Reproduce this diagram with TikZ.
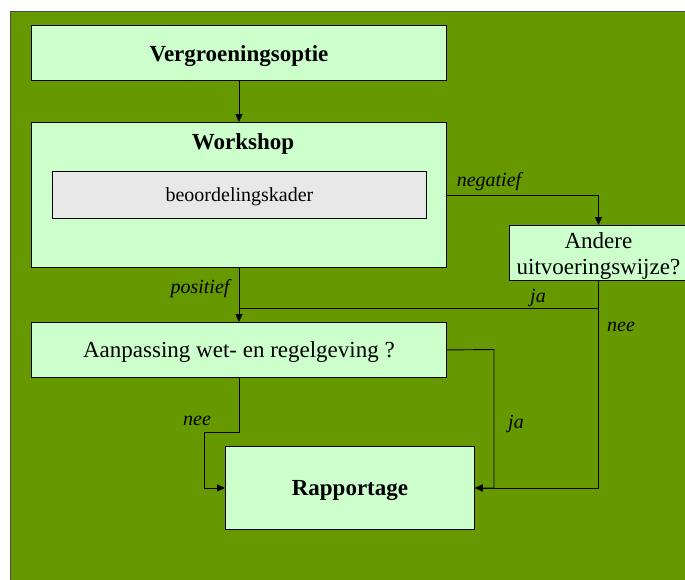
\documentclass[tikz,border=0pt]{standalone}
\usepackage{fontspec}
\setmainfont{Liberation Serif}
\usetikzlibrary{arrows.meta}
\definecolor{bggreen}{HTML}{669900}
\definecolor{boxgreen}{HTML}{CCFFCC}
\definecolor{boxgray}{HTML}{E8E8E8}
\begin{document}
\begin{tikzpicture}[x=1pt,y=-1pt,
  box/.style={draw=black, line width=0.9pt, fill=boxgreen, inner sep=0pt, anchor=north west},
  graybox/.style={box, fill=boxgray},
  arr/.style={line width=0.9pt, -{Triangle[length=8pt,width=7pt]}},
  ln/.style={line width=0.9pt},
  lbl/.style={font=\fontsize{20}{24}\selectfont\itshape, inner sep=0pt},
  ttl/.style={font=\fontsize{23}{26}\selectfont\bfseries},
  txt/.style={font=\fontsize{23}{26}\selectfont, align=center}]
\useasboundingbox (0,0) rectangle (685,579);
\fill[white] (0,0) rectangle (685,579);
\fill[bggreen] (10,11) rectangle (690,585);
\draw[line width=0.9pt, black!70] (10,585) -- (10,11) -- (690,11);
% boxes
\node[box, minimum width=415pt, minimum height=55pt] (v) at (31,25) {};
\node[ttl] (vt) at ([yshift=-3pt]v.center) {Vergroeningsoptie};
\node[box, minimum width=415pt, minimum height=145pt] (w) at (31,122) {};
\node[ttl] (wt) at (243,144) {Workshop};
\node[graybox, minimum width=374pt, minimum height=47pt] (b) at (52,171) {};
\node[font=\fontsize{20}{24}\selectfont] (bt) at ([yshift=-2pt]b.center) {beoordelingskader};
\node[box, minimum width=178pt, minimum height=55pt] (a) at (509,225) {};
\node[txt] (at) at ([yshift=-3pt]a.center) {Andere\\uitvoeringswijze?};
\node[box, minimum width=415pt, minimum height=55pt] (p) at (31,322) {};
\node[txt] (pt) at ([yshift=-2pt]p.center) {Aanpassing wet- en regelgeving ?};
\node[box, minimum width=249pt, minimum height=83pt] (r) at (225,446) {};
\node[ttl] (rt) at ([yshift=-3pt]r.center) {Rapportage};
% coordinates
\coordinate (jn) at (238.5,308);
\coordinate (pj) at (494,349.5);
\coordinate (n1) at (204,432);
% connectors
\draw[arr] (v.south) -- (w.north);
\draw[arr] (w.east) -| (a.north);
\draw[arr] (w.south) -- (p.north);
\draw[ln] (a.south) |- (jn);
\draw[arr] (a.south) |- (r.east);
\draw[arr] (p.east) -- (pj) |- (r.east);
\draw[arr] (p.south) |- (n1) |- (r.west);
% labels
\node[lbl] (l1) at (489,182) {negatief};
\node[lbl] (l2) at (200,289) {positief};
\node[lbl] (l3) at (538,298) {ja};
\node[lbl] (l4) at (621,327) {nee};
\node[lbl] (l5) at (197,421) {nee};
\node[lbl] (l6) at (516,424) {ja};
\end{tikzpicture}
\end{document}
